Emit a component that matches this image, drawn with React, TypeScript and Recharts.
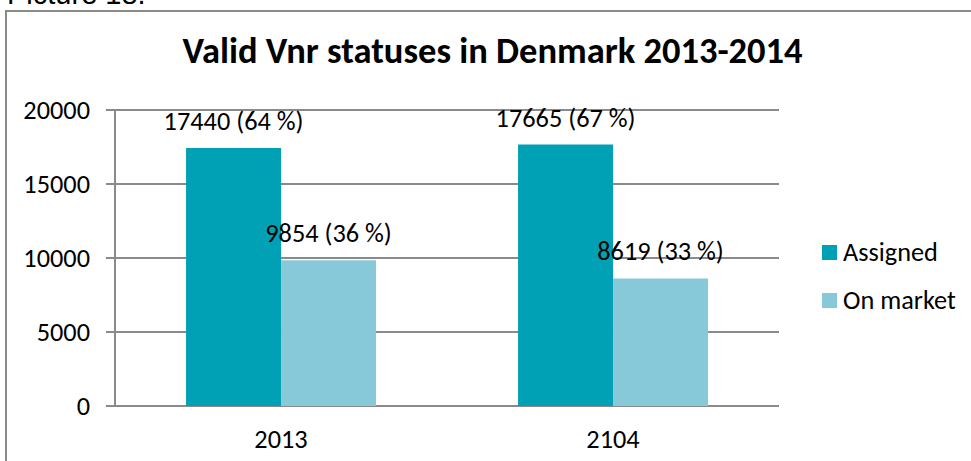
import { BarChart, Bar, XAxis, YAxis, CartesianGrid, Legend, LabelList } from 'recharts'

const years = ['2013', '2104']
const assigned = [17440, 17665]
const onMarket = [9854, 8619]
const assignedPct = [64, 67]
const onMarketPct = [36, 33]
const yTicks = [0, 5000, 10000, 15000, 20000]

const data = years.map((year, i) => ({
  year,
  assigned: assigned[i],
  onMarket: onMarket[i],
  assignedPct: assignedPct[i],
  onMarketPct: onMarketPct[i],
}))

const FONT = "Carlito, 'Open Sans', sans-serif"
const FS = 26.3
const GRID = '#8a8a8a'
const TEAL = '#00a1b4'
const LIGHT = '#87c9d8'

const makeLabel = (pcts: number[]) => (props: any) => {
  const { x, y, width, value, index } = props
  return (
    <text x={x + width / 2} y={y - 18} textAnchor="middle" fontFamily={FONT} fontSize={FS} fill="#000">
      {`${value} (${pcts[index]} %)`}
    </text>
  )
}

const legendItems = [
  { name: 'Assigned', color: TEAL },
  { name: 'On market', color: LIGHT },
]

function LegendBox() {
  return (
    <div style={{ fontFamily: FONT, fontSize: FS, lineHeight: 1 }}>
      {legendItems.map((it) => (
        <div key={it.name} style={{ display: 'flex', alignItems: 'center', height: 48, whiteSpace: 'nowrap' }}>
          <span style={{ width: 15, height: 15, background: it.color, display: 'inline-block', marginRight: 6 }} />
          <span>{it.name}</span>
        </div>
      ))}
    </div>
  )
}

export default function App() {
  return (
    <div style={{ position: 'absolute', left: 0, top: 0, width: 971, height: 461, overflow: 'hidden', background: '#fff' }}>
      <div style={{ position: 'absolute', left: 7, top: -20, fontFamily: "'Liberation Sans', Arial, sans-serif", fontSize: 29, lineHeight: 1, whiteSpace: 'nowrap' }}>
        Picture 18.
      </div>
      <div style={{ position: 'absolute', left: 5, top: 10, width: 1000, height: 500, borderLeft: `2px solid ${GRID}`, borderTop: `2px solid ${GRID}` }} />
      <div style={{ position: 'absolute', left: 0, top: 33, width: 985, textAlign: 'center', fontFamily: FONT, fontWeight: 700, fontSize: 36.5, lineHeight: 1, whiteSpace: 'nowrap' }}>
        Valid Vnr statuses in Denmark 2013-2014
      </div>
      <div style={{ position: 'absolute', left: 0, top: 0 }}>
        <BarChart
          width={971}
          height={461}
          data={data}
          margin={{ top: 110, right: 192, bottom: 0, left: 35 }}
          barCategoryGap="21.4%"
          barGap={0}
        >
          <CartesianGrid vertical={false} stroke={GRID} strokeWidth={2} />
          <XAxis
            xAxisId="edge"
            type="number"
            domain={[0, 2]}
            ticks={[0, 1, 2]}
            tickFormatter={() => ''}
            tickSize={9}
            height={0}
            axisLine={{ stroke: GRID, strokeWidth: 2 }}
            tickLine={{ stroke: GRID, strokeWidth: 2 }}
          />
          <XAxis
            dataKey="year"
            axisLine={false}
            tickLine={false}
            tickMargin={17}
            height={55}
            tick={{ fill: '#000', fontFamily: FONT, fontSize: FS }}
          />
          <YAxis
            width={80}
            domain={[0, 20000]}
            ticks={yTicks}
            tickSize={9}
            tickMargin={16}
            axisLine={{ stroke: GRID, strokeWidth: 2 }}
            tickLine={{ stroke: GRID, strokeWidth: 2 }}
            tick={{ fill: '#000', fontFamily: FONT, fontSize: FS }}
          />
          <Legend
            layout="vertical"
            align="center"
            verticalAlign="middle"
            wrapperStyle={{ left: 822, top: 228, width: 'auto' }}
            content={() => <LegendBox />}
          />
          <Bar dataKey="assigned" name="Assigned" fill={TEAL} isAnimationActive={false}>
            <LabelList dataKey="assigned" content={makeLabel(assignedPct)} />
          </Bar>
          <Bar dataKey="onMarket" name="On market" fill={LIGHT} isAnimationActive={false}>
            <LabelList dataKey="onMarket" content={makeLabel(onMarketPct)} />
          </Bar>
        </BarChart>
      </div>
    </div>
  )
}
